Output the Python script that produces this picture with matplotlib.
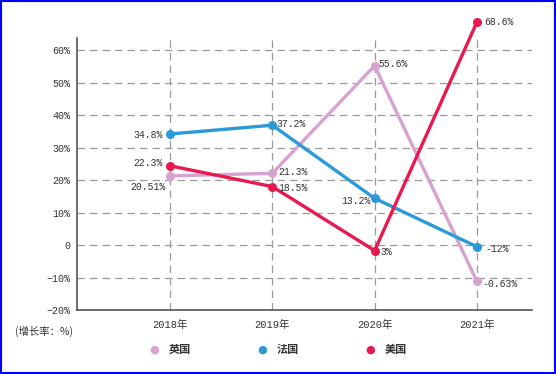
import matplotlib
matplotlib.use("Agg")
import matplotlib.pyplot as plt
from matplotlib.patches import Rectangle

years = ["2018年", "2019年", "2020年", "2021年"]
uk = [21.3, 22.1, 55.2, -11.1]
fr = [34.2, 36.9, 14.4, -0.5]
us = [24.4, 18.0, -1.7, 68.6]
uk_labels = ["20.51%", "21.3%", "55.6%", "-0.63%"]
fr_labels = ["34.8%", "37.2%", "13.2%", "-12%"]
us_labels = ["22.3%", "18.5%", "3%", "68.6%"]
yticks = [-20, -10, 0, 10, 20, 30, 40, 50, 60]
ytick_labels = ["−20%", "−10%", "0", "10%", "20%", "30%", "40%", "50%", "60%"]
series_names = ["英国", "法国", "美国"]

c_uk = "#d7a2cf"
c_fr = "#2b9ad8"
c_us = "#e8194f"
tc = "#333333"
fam = ["Liberation Mono", "Noto Sans CJK SC"]

fig = plt.figure(figsize=(5.56, 3.74), dpi=100)
ax = fig.add_axes([0.1385, 0.171, 0.957 - 0.1385, 0.898 - 0.171])
x = list(range(len(years)))

for vals, c in [(uk, c_uk), (fr, c_fr), (us, c_us)]:
    ax.plot(x, vals, color=c, lw=2.4, marker="o", ms=5.5, clip_on=False, zorder=3)

ax.set_xlim(-0.91, 3.54)
ax.set_ylim(-20, 63.7)
ax.set_yticks(yticks)
ax.set_yticklabels(ytick_labels, family=fam, fontsize=7.2, color=tc)
ax.set_xticks(x)
ax.set_xticklabels(years, family=fam, fontsize=7.5, color=tc)
ax.tick_params(length=0, pad=5)
ax.tick_params(axis="x", pad=7)
for s in ["top", "right"]:
    ax.spines[s].set_visible(False)
for s in ["left", "bottom"]:
    ax.spines[s].set_color("#555555")
    ax.spines[s].set_linewidth(1.2)
ax.grid(True, ls=(0, (6, 4)), color="#999999", lw=0.9)
ax.set_axisbelow(True)

def lab(xi, yi, s, dx, dy, ha):
    ax.annotate(s, (xi, yi), xytext=(dx, dy), textcoords="offset points",
                ha=ha, va="center", family=fam, fontsize=7, color=tc,
                annotation_clip=False, zorder=4)

# UK labels
lab(0, uk[0], uk_labels[0], -3, -8, "right")
lab(1, uk[1], uk_labels[1], 4, 1, "left")
lab(2, uk[2], uk_labels[2], 3, 1, "left")
lab(3, uk[3], uk_labels[3], 4, -2, "left")
# France labels
lab(0, fr[0], fr_labels[0], -5, -1, "right")
lab(1, fr[1], fr_labels[1], 3, 1, "left")
lab(2, fr[2], fr_labels[2], -3, -2, "right")
lab(3, fr[3], fr_labels[3], 6, -2, "left")
# US labels
lab(0, us[0], us_labels[0], -5, 2, "right")
lab(1, us[1], us_labels[1], 4, -1, "left")
lab(2, us[2], us_labels[2], 4, -1, "left")
lab(3, us[3], us_labels[3], 5, 0, "left")

fig.text(15 / 556, 1 - 331 / 374, "(增长率：%)", family=["Noto Sans CJK SC"],
         fontsize=7.5, color=tc, va="center", ha="left")

legend_x = [154, 262, 370]
for lx, name, c in zip(legend_x, series_names, [c_uk, c_fr, c_us]):
    fig.text(lx / 556, 1 - 350 / 374, "●", color=c, fontsize=8, ha="center", va="center",
             family="DejaVu Sans")
    fig.text((lx + 15) / 556, 1 - 349 / 374, name, color=tc, fontsize=8, ha="left",
             va="center", family="Noto Sans CJK SC", weight="bold")

fig.patches.append(Rectangle((0.002, 0.003), 0.996, 0.994, transform=fig.transFigure,
                             fill=False, edgecolor="#0000ff", lw=1.5))

fig.savefig("out.png", dpi=100)
